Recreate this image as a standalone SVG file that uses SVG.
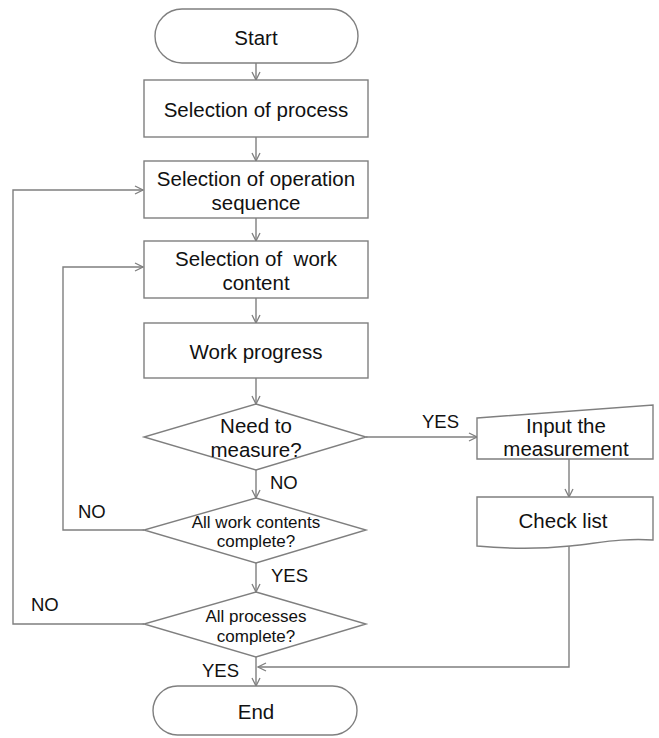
<svg xmlns="http://www.w3.org/2000/svg" width="659" height="738" viewBox="0 0 659 738">
<defs>
<style>
.s{fill:#fff;stroke:#7f7f7f;stroke-width:1.4}
.c{fill:none;stroke:#7f7f7f;stroke-width:1.4}
text{font-family:"Liberation Sans",Arial,sans-serif;fill:#111;text-anchor:middle}
.t{font-size:20.5px}
.d{font-size:17px}
.l{font-size:18.5px;text-anchor:start}
</style>
<marker id="a" viewBox="0 0 10 10" refX="9" refY="5" markerWidth="10" markerHeight="10" markerUnits="userSpaceOnUse" orient="auto">
<path d="M1,1 L9,5 L1,9" fill="none" stroke="#7f7f7f" stroke-width="1.3"/>
</marker>
</defs>
<rect width="659" height="738" fill="#fff"/>
<g id="connectors">
<line class="c" x1="256" y1="63" x2="256" y2="80" marker-end="url(#a)"/>
<line class="c" x1="256" y1="137" x2="256" y2="161" marker-end="url(#a)"/>
<line class="c" x1="256" y1="218" x2="256" y2="241" marker-end="url(#a)"/>
<line class="c" x1="256" y1="298" x2="256" y2="323" marker-end="url(#a)"/>
<line class="c" x1="256" y1="378" x2="256" y2="404" marker-end="url(#a)"/>
<line class="c" x1="256" y1="470" x2="256" y2="498" marker-end="url(#a)"/>
<line class="c" x1="256" y1="563" x2="256" y2="592" marker-end="url(#a)"/>
<line class="c" x1="256" y1="657" x2="256" y2="686" marker-end="url(#a)"/>
<line class="c" x1="366" y1="437" x2="477" y2="437" marker-end="url(#a)"/>
<line class="c" x1="569" y1="459" x2="569" y2="497" marker-end="url(#a)"/>
<path class="c" d="M569,545 V667 H258" marker-end="url(#a)"/>
<path class="c" d="M144,530 H63 V267 H143" marker-end="url(#a)"/>
<path class="c" d="M144,624 H13 V190 H143" marker-end="url(#a)"/>
<text class="l" x="270" y="489">NO</text>
<text class="l" x="271" y="582">YES</text>
<text class="l" x="202" y="677">YES</text>
<text class="l" x="422" y="428">YES</text>
<text class="l" x="78" y="518">NO</text>
<text class="l" x="31" y="611">NO</text>
</g>
<g id="start">
<rect class="s" x="155" y="9" width="203" height="54" rx="27"/>
<text class="t" x="256" y="45">Start</text>
</g>
<g id="process">
<rect class="s" x="144" y="80" width="224" height="57"/>
<text class="t" x="256" y="117">Selection of process</text>
</g>
<g id="operation">
<rect class="s" x="144" y="161" width="224" height="57"/>
<text class="t" x="256" y="186">Selection of operation</text>
<text class="t" x="256" y="210">sequence</text>
</g>
<g id="workcontent">
<rect class="s" x="144" y="241" width="224" height="57"/>
<text class="t" x="256" y="266" xml:space="preserve">Selection of  work</text>
<text class="t" x="256" y="290">content</text>
</g>
<g id="progress">
<rect class="s" x="144" y="323" width="224" height="55"/>
<text class="t" x="256" y="359">Work progress</text>
</g>
<g id="measure">
<polygon class="s" points="256,404 366,437 256,470 144,437"/>
<text class="t" x="256" y="433">Need to</text>
<text class="t" x="256" y="457">measure?</text>
</g>
<g id="allwork">
<polygon class="s" points="256,498 366,530 256,563 144,530"/>
<text class="d" x="256" y="528">All work contents</text>
<text class="d" x="256" y="547">complete?</text>
</g>
<g id="allproc">
<polygon class="s" points="256,592 366,624 256,657 144,624"/>
<text class="d" x="256" y="622">All processes</text>
<text class="d" x="256" y="642">complete?</text>
</g>
<g id="end">
<rect class="s" x="153" y="686" width="204" height="49" rx="24.5"/>
<text class="t" x="256" y="719">End</text>
</g>
<g id="input">
<polygon class="s" points="477,418 653,405 653,459 477,459"/>
<text class="t" x="566" y="433">Input the</text>
<text class="t" x="566" y="456">measurement</text>
</g>
<g id="checklist">
<path class="s" d="M477,497 H653 V540 C620,538 600,543 570,546 C540,549 510,549 477,546 Z"/>
<text class="t" x="563" y="528">Check list</text>
</g>
</svg>
